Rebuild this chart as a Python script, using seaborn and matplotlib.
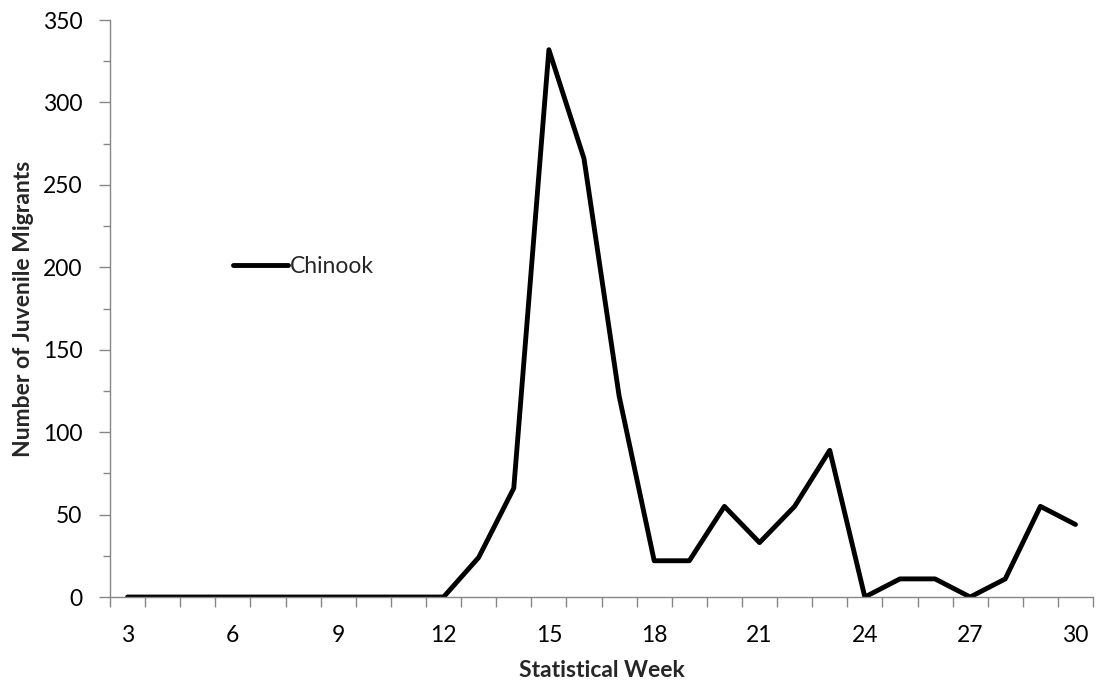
import matplotlib
matplotlib.use("Agg")
import matplotlib.pyplot as plt
import matplotlib.ticker as mticker
import pandas as pd
import seaborn as sns

# weekly counts
weeks = list(range(3, 31))
chinook = [0, 0, 0, 0, 0, 0, 0, 0, 0, 0,
           24, 66, 332, 266, 122, 22, 22, 55, 33, 55,
           89, 0, 11, 11, 0, 11, 55, 44]
x_tick_labels = [3, 6, 9, 12, 15, 18, 21, 24, 27, 30]
y_ticks = [0, 50, 100, 150, 200, 250, 300, 350]

df = pd.DataFrame({'week': weeks, 'Chinook': chinook})

sns.set_style("white")
plt.rcParams['font.family'] = ['Lato', 'DejaVu Sans']

fig = plt.figure(figsize=(10.96, 6.86), dpi=100)
ax = fig.add_axes([0.1004, 0.1297, 0.8969, 0.8411])

sns.lineplot(data=df, x='week', y='Chinook', color='black', linewidth=3.5,
             label='Chinook', ax=ax)

grey = '#868686'
fs = 16.5
ax.set_xlim(2.5, 30.5)
ax.set_ylim(0, 350)
ax.set_xticks(x_tick_labels)
ax.xaxis.set_minor_locator(mticker.FixedLocator([w + 0.5 for w in range(2, 31)]))
ax.set_yticks(y_ticks)
ax.yaxis.set_minor_locator(mticker.MultipleLocator(25))

ax.tick_params(axis='x', which='major', length=0, pad=20, labelsize=fs, colors='black')
ax.tick_params(axis='x', which='minor', length=7, width=1, color=grey, direction='out', bottom=True)
ax.tick_params(axis='y', which='major', length=8, width=1, color=grey, direction='out', left=True,
               labelsize=fs, labelcolor='black', pad=12)
ax.tick_params(axis='y', which='minor', length=5, width=1, color=grey, direction='out', left=True)

for side in ['top', 'right']:
    ax.spines[side].set_visible(False)
for side in ['left', 'bottom']:
    ax.spines[side].set_color(grey)
    ax.spines[side].set_linewidth(1)

ax.set_xlabel('Statistical Week', fontsize=fs, fontweight='bold', labelpad=10)
ax.set_ylabel('Number of Juvenile Migrants', fontsize=fs, fontweight='bold', labelpad=6)

ax.legend(loc='center left', bbox_to_anchor=(0.125, 0.572), frameon=False,
          fontsize=fs, handlelength=2.4, handletextpad=0.1, borderpad=0, borderaxespad=0)

fig.savefig('out.png', dpi=100)
